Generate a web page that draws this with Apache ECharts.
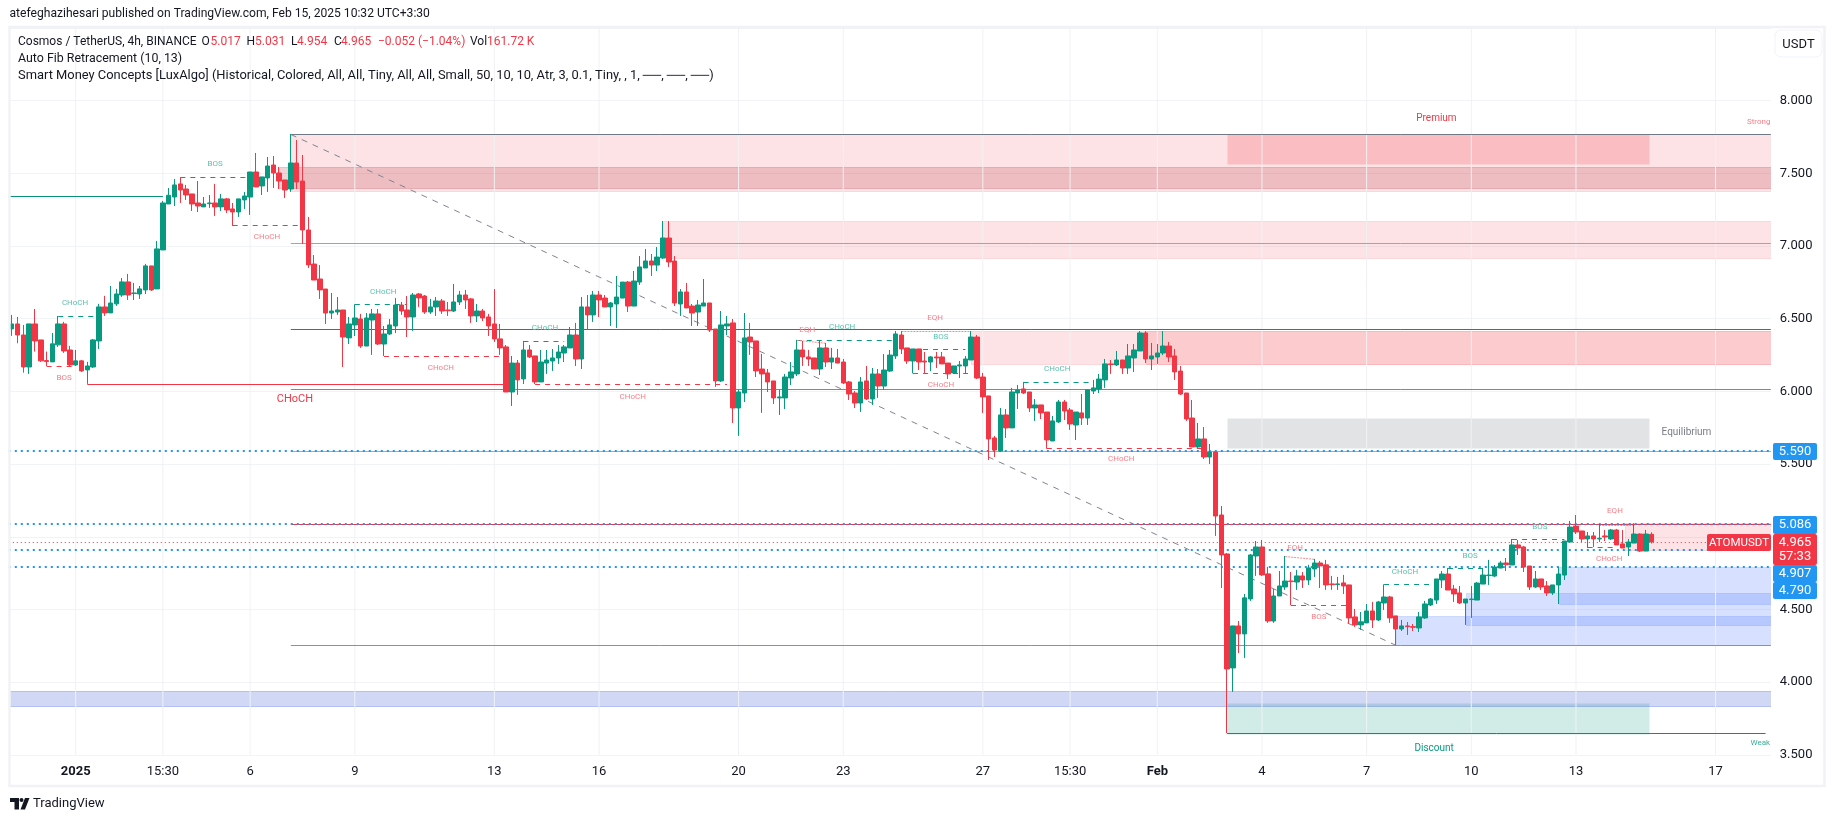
<!DOCTYPE html>
<html><head><meta charset="utf-8"><style>html,body{margin:0;padding:0;background:#fff}#c{width:1835px;height:821px}</style>
<script src="https://cdn.jsdelivr.net/npm/echarts@6/dist/echarts.min.js"></script></head><body><div id="c"></div>
<script>
const opens=[6.430,6.464,6.388,6.168,6.464,6.354,6.212,6.203,6.320,6.464,
6.285,6.182,6.210,6.148,6.168,6.347,6.581,6.540,6.602,6.663,
6.753,6.673,6.670,6.698,6.863,6.705,6.973,7.289,7.337,7.427,
7.392,7.358,7.296,7.269,7.291,7.296,7.269,7.324,7.255,7.234,
7.317,7.337,7.509,7.413,7.468,7.557,7.502,7.454,7.392,7.571,
7.447,7.110,6.876,6.773,6.704,6.539,6.546,6.560,6.368,6.457,
6.498,6.312,6.491,6.533,6.326,6.395,6.450,6.594,6.560,6.512,
6.670,6.656,6.546,6.581,6.622,6.560,6.553,6.615,6.663,6.636,
6.519,6.553,6.512,6.464,6.361,6.306,5.996,6.195,6.086,6.285,
6.244,6.065,6.195,6.209,6.230,6.264,6.299,6.388,6.223,6.581,
6.526,6.663,6.642,6.581,6.601,6.642,6.752,6.587,6.752,6.849,
6.897,6.869,6.918,7.055,6.897,6.601,6.684,6.587,6.546,6.587,
6.608,6.429,6.072,6.450,6.471,5.886,5.989,6.374,6.347,6.154,
6.127,6.072,5.955,5.955,6.092,6.120,6.285,6.237,6.230,6.154,
6.299,6.202,6.230,6.202,6.065,5.989,5.920,6.072,5.948,6.120,
6.037,6.140,6.244,6.388,6.299,6.209,6.292,6.209,6.202,6.237,
6.237,6.195,6.127,6.175,6.175,6.216,6.374,6.099,5.969,5.680,
5.590,5.838,5.749,5.989,6.017,5.996,5.886,5.907,5.858,5.659,
5.790,5.927,5.872,5.769,5.852,5.817,6.003,6.017,6.079,6.189,
6.182,6.216,6.161,6.230,6.278,6.402,6.223,6.237,6.264,6.312,
6.244,6.140,5.989,5.817,5.618,5.673,5.549,5.583,5.150,4.882,
4.098,4.387,4.332,4.573,4.868,4.930,4.745,4.421,4.593,4.655,
4.696,4.689,4.731,4.703,4.779,4.820,4.807,4.676,4.671,4.683,
4.669,4.449,4.394,4.408,4.490,4.428,4.545,4.586,4.456,4.366,
4.387,4.382,4.373,4.442,4.531,4.565,4.703,4.744,4.641,4.614,
4.545,4.568,4.565,4.675,4.733,4.730,4.785,4.820,4.806,4.944,
4.930,4.799,4.655,4.710,4.662,4.614,4.669,4.737,4.964,5.074,
5.040,4.985,5.006,4.985,5.006,4.985,5.047,4.951,4.930,4.957,
5.019,4.902,5.017];
const closes=[6.464,6.388,6.168,6.464,6.347,6.210,6.205,6.327,6.464,6.278,
6.182,6.210,6.141,6.175,6.354,6.581,6.540,6.608,6.670,6.753,
6.663,6.677,6.705,6.863,6.698,6.980,7.296,7.349,7.420,7.385,
7.351,7.289,7.275,7.289,7.296,7.269,7.324,7.248,7.234,7.324,
7.344,7.509,7.406,7.475,7.550,7.502,7.447,7.385,7.571,7.440,
7.110,6.870,6.766,6.698,6.539,6.553,6.560,6.374,6.464,6.505,
6.312,6.505,6.533,6.326,6.395,6.457,6.594,6.553,6.512,6.663,
6.643,6.546,6.581,6.622,6.553,6.555,6.615,6.663,6.629,6.519,
6.553,6.505,6.450,6.361,6.299,5.996,6.195,6.079,6.285,6.237,
6.065,6.202,6.216,6.230,6.271,6.306,6.388,6.223,6.581,6.526,
6.663,6.629,6.581,6.608,6.649,6.752,6.587,6.759,6.856,6.897,
6.869,6.924,7.055,6.890,6.608,6.684,6.574,6.539,6.594,6.608,
6.422,6.072,6.457,6.464,5.886,5.996,6.368,6.340,6.141,6.120,
6.065,5.955,5.962,6.099,6.134,6.285,6.237,6.223,6.154,6.299,
6.202,6.230,6.195,6.058,5.982,5.920,6.065,5.948,6.120,6.037,
6.147,6.250,6.395,6.292,6.209,6.292,6.202,6.202,6.237,6.230,
6.189,6.120,6.175,6.182,6.223,6.374,6.092,5.962,5.673,5.597,
5.838,5.749,5.996,6.010,5.989,5.886,5.907,5.852,5.666,5.797,
5.927,5.865,5.776,5.858,5.817,6.010,6.024,6.085,6.189,6.184,
6.216,6.161,6.244,6.285,6.402,6.223,6.244,6.264,6.312,6.237,
6.134,5.982,5.810,5.618,5.673,5.549,5.583,5.143,4.875,4.091,
4.387,4.332,4.580,4.875,4.930,4.738,4.421,4.593,4.662,4.696,
4.692,4.731,4.703,4.786,4.820,4.800,4.669,4.671,4.676,4.662,
4.442,4.394,4.415,4.490,4.428,4.552,4.586,4.442,4.366,4.387,
4.382,4.378,4.449,4.538,4.572,4.710,4.744,4.634,4.607,4.545,
4.572,4.572,4.682,4.737,4.737,4.792,4.820,4.808,4.944,4.923,
4.792,4.655,4.710,4.655,4.614,4.669,4.744,4.971,5.067,5.033,
4.985,5.006,4.985,4.990,4.999,5.047,4.944,4.923,4.964,5.019,
4.902,5.019,4.965];
const highs=[6.526,6.512,6.457,6.464,6.567,6.354,6.274,6.402,6.519,6.478,
6.313,6.285,6.217,6.203,6.361,6.602,6.657,6.725,6.705,6.780,
6.808,6.746,6.725,6.877,6.863,7.035,7.310,7.399,7.461,7.473,
7.420,7.358,7.447,7.337,7.351,7.427,7.358,7.330,7.296,7.324,
7.372,7.509,7.640,7.475,7.612,7.619,7.544,7.454,7.770,7.729,
7.626,7.200,6.938,6.869,6.704,6.677,6.649,6.560,6.512,6.599,
6.533,6.539,6.567,6.567,6.450,6.498,6.643,6.615,6.656,6.677,
6.677,6.663,6.636,6.649,6.636,6.615,6.739,6.691,6.698,6.643,
6.601,6.567,6.533,6.704,6.464,6.319,6.244,6.216,6.347,6.319,
6.244,6.285,6.285,6.292,6.319,6.319,6.443,6.471,6.649,6.663,
6.691,6.691,6.663,6.615,6.794,6.752,6.759,6.828,6.931,6.979,
6.945,6.993,7.172,7.172,6.931,6.704,6.746,6.601,6.629,6.773,
6.608,6.429,6.553,6.519,6.498,6.010,6.539,6.471,6.347,6.258,
6.154,6.072,6.010,6.120,6.202,6.354,6.347,6.285,6.230,6.347,
6.333,6.299,6.292,6.223,6.072,6.003,6.099,6.175,6.161,6.154,
6.257,6.285,6.415,6.415,6.299,6.292,6.292,6.271,6.244,6.271,
6.271,6.195,6.175,6.209,6.244,6.415,6.388,6.127,5.969,5.693,
5.886,5.879,6.024,6.044,6.065,5.996,5.948,5.907,5.858,5.831,
5.941,5.941,5.886,5.858,5.982,6.010,6.079,6.120,6.223,6.216,
6.278,6.216,6.326,6.326,6.415,6.415,6.333,6.326,6.415,6.340,
6.292,6.175,5.989,5.941,5.783,5.755,5.638,5.583,5.212,4.889,
4.387,4.421,4.607,4.882,4.971,4.978,4.793,4.641,4.765,4.868,
4.758,4.772,4.758,4.807,4.848,4.834,4.841,4.731,4.724,4.738,
4.669,4.504,4.483,4.538,4.552,4.559,4.673,4.593,4.456,4.428,
4.414,4.400,4.483,4.559,4.579,4.710,4.765,4.786,4.669,4.662,
4.572,4.662,4.689,4.785,4.841,4.806,4.834,4.854,4.985,4.978,
4.937,4.799,4.765,4.710,4.696,4.669,4.792,4.971,5.109,5.150,
5.040,5.033,5.033,5.088,5.047,5.054,5.054,5.047,4.985,5.093,
5.024,5.047,5.031];
const lows=[6.382,6.331,6.129,6.120,6.274,6.203,6.175,6.203,6.306,6.265,
6.175,6.175,6.134,6.052,6.161,6.292,6.519,6.540,6.588,6.650,
6.629,6.629,6.636,6.670,6.691,6.705,6.973,7.289,7.275,7.296,
7.317,7.241,7.234,7.269,7.262,7.207,7.241,7.227,7.138,7.200,
7.255,7.214,7.406,7.351,7.372,7.399,7.392,7.330,7.372,7.392,
7.014,6.849,6.766,6.636,6.464,6.498,6.526,6.168,6.326,6.381,
6.299,6.312,6.251,6.319,6.244,6.388,6.402,6.526,6.374,6.416,
6.581,6.533,6.533,6.519,6.533,6.519,6.546,6.594,6.567,6.471,
6.477,6.484,6.381,6.340,6.251,5.996,5.900,5.976,6.051,6.230,
6.051,6.065,6.120,6.141,6.189,6.202,6.299,6.175,6.154,6.422,
6.478,6.512,6.581,6.450,6.436,6.642,6.546,6.587,6.732,6.849,
6.794,6.828,6.911,6.856,6.587,6.519,6.574,6.450,6.450,6.587,
6.409,6.031,6.065,6.388,5.783,5.694,5.927,6.251,6.099,5.852,
5.996,5.914,5.838,5.879,6.044,6.106,6.175,6.175,6.154,6.113,
6.168,6.154,6.195,6.051,5.941,5.886,5.859,5.941,5.907,5.955,
6.010,6.134,6.223,6.257,6.189,6.124,6.147,6.127,6.140,6.161,
6.189,6.085,6.120,6.092,6.120,6.216,6.085,5.852,5.528,5.549,
5.583,5.680,5.749,5.879,5.982,5.858,5.797,5.810,5.606,5.659,
5.783,5.803,5.735,5.666,5.769,5.769,5.982,5.989,6.024,6.120,
6.175,6.120,6.120,6.134,6.278,6.195,6.147,6.189,6.250,6.202,
6.079,5.975,5.797,5.618,5.611,5.535,5.501,5.006,4.648,3.650,
3.933,4.201,4.167,4.559,4.731,4.731,4.408,4.408,4.593,4.635,
4.529,4.635,4.648,4.669,4.724,4.648,4.635,4.635,4.635,4.607,
4.401,4.380,4.360,4.408,4.373,4.421,4.497,4.408,4.256,4.352,
4.325,4.352,4.345,4.435,4.524,4.538,4.648,4.634,4.552,4.538,
4.394,4.442,4.565,4.675,4.669,4.724,4.785,4.765,4.806,4.875,
4.758,4.634,4.648,4.634,4.593,4.600,4.538,4.703,4.964,5.019,
4.964,4.923,4.930,4.964,4.971,4.978,4.944,4.923,4.868,4.957,
4.896,4.902,4.954];

const slotCount=303, lastSlot=302.5, firstSlot=-0.5;
const tickIndex=[11,26,41,59,83,101,125,143,167,182,197,215,233,251,269,293];
const tickText=['2025','15:30','6','9','13','16','20','23','27','15:30','Feb','4','7','10','13','17'];
const boldTicks=['2025','Feb'];

// zones: [startBar, endBar, topPrice, bottomPrice]
const paleRedZones=[[48,lastSlot,7.767,7.375],[112,lastSlot,7.172,6.915],[165,lastSlot,6.415,6.190],[195,lastSlot,6.415,6.190],[277.5,lastSlot,5.095,4.909]];
const orderBlockZones=[[46,lastSlot,7.543,7.401]];
const premiumZones=[[209,281.6,7.767,7.566]];
const equilibriumZones=[[209,281.6,5.817,5.609]];
const discountZones=[[209,281.6,3.857,3.647]];
const blueZones=[[238,lastSlot,4.453,4.254],[250,lastSlot,4.614,4.396],[266,lastSlot,4.793,4.540]];
const bandZones=[[firstSlot,lastSlot,3.939,3.834]];

// segments: [x1, price1, x2, price2]
const fibGrey=[[48,7.767,lastSlot,7.767]];
const fibBlue=[[48,7.019,lastSlot,7.019]];
const fibTeal=[[48,6.431,lastSlot,6.431],[firstSlot,7.347,26,7.347],[209,3.648,301.6,3.648]];
const fibGreen=[[48,6.015,lastSlot,6.015]];
const fibLight=[[48,5.590,lastSlot,5.590]];
const fibRed=[[48,5.086,lastSlot,5.086],[13,6.050,85,6.050]];
const fibPurple=[[48,4.254,lastSlot,4.254]];
const diagonal=[[48,7.767,238,4.254]];
const dottedLevels=[5.590,5.086,4.907,4.790];
const lastPrice=[4.965];
const greenDash=[[8,6.517,15,6.517],[29,7.473,41,7.473],[59,6.599,68,6.599],[88,6.344,95,6.344],[135,6.351,152,6.351],[155,6.289,164,6.289],[174,6.062,186,6.062],[236,4.673,244,4.673],[247,4.783,253,4.783],[258,4.983,267,4.983]];
const redDash=[[6,6.175,10.5,6.175],[38,7.142,50,7.142],[64,6.244,84,6.244],[90,6.050,123,6.050],[155,6.124,165,6.124],[178,5.609,205,5.609],[220,4.529,230,4.529],[271,4.928,275.5,4.928]];
const pinkDot=[[135,6.351,140,6.331],[153,6.413,165,6.413],[219,4.864,224,4.845],[273,5.081,279,5.081]];

// text notes: [label, bar, price]
const greenNotes=[['CHoCH',10.9,6.608],['BOS',35,7.564],['CHoCH',63.9,6.684],['CHoCH',91.7,6.436],['CHoCH',142.8,6.443],['BOS',159.8,6.374],['CHoCH',179.8,6.154],['CHoCH',239.6,4.758],['BOS',250.8,4.868],['BOS',262.8,5.068]];
const redNotes=[['BOS',9,6.092],['CHoCH',43.9,7.062],['CHoCH',73.8,6.161],['CHoCH',106.8,5.964],['EQH',136.8,6.422],['EQH',158.8,6.505],['CHoCH',159.8,6.044],['CHoCH',190.8,5.535],['EQH',220.7,4.923],['BOS',224.8,4.448],['EQH',275.7,5.178],['CHoCH',274.7,4.848]];
const bigNotes=[['CHoCH',48.7,5.948]];
const zoneRedNotes=[['Premium',245,7.880]];
const zoneGreyNotes=[['Equilibrium',288,5.714]];
const zoneGreenNotes=[['Discount',244.6,3.547]];
const edgeRedNotes=[['Strong High',298.4,7.853]];
const edgeGreenNotes=[['Weak Low',299,3.581]];

const FONT='Roboto, "Noto Sans", sans-serif';
const UP='#089981', DOWN='#F23645', INK='#131722';
const categories=Array.from({length:slotCount},(_,i)=>{const k=tickIndex.indexOf(i);return k>=0?tickText[k]:'';});
const candleData=opens.map((o,i)=>[o,closes[i],lows[i],highs[i]]);

function zoneSeries(rows,fill,stroke,z){
  return {type:'custom',xAxisIndex:1,yAxisIndex:0,z:z||1,silent:true,clip:true,animation:false,data:rows,
    encode:{x:[0,1],y:[2,3]},
    renderItem:(p,api)=>{
      const a=api.coord([api.value(0),api.value(2)]),b=api.coord([api.value(1),api.value(3)]);
      const x=Math.round(a[0])+.5,y=Math.round(a[1])+.5,w=Math.round(b[0])-Math.round(a[0]),h=Math.round(b[1])-Math.round(a[1]);
      return {type:'rect',shape:{x,y,width:w,height:h},style:{fill,stroke,lineWidth:1}};
    }};
}
function segSeries(rows,stroke,lineWidth,lineDash,z){
  return {type:'custom',xAxisIndex:1,yAxisIndex:0,z:z||2,silent:true,clip:true,animation:false,data:rows,
    encode:{x:[0,2],y:[1,3]},
    renderItem:(p,api)=>{
      const a=api.coord([api.value(0),api.value(1)]),b=api.coord([api.value(2),api.value(3)]);
      let y1=a[1],y2=b[1];
      if(y1===y2){y1=y2=Math.round(y1)+(lineWidth%2?.5:0);}
      return {type:'line',shape:{x1:a[0],y1,x2:b[0],y2},style:{stroke,lineWidth,lineDash:lineDash||null,fill:null}};
    }};
}
function noteSeries(rows,fill,size,align){
  return {type:'custom',xAxisIndex:1,yAxisIndex:0,z:5,silent:true,clip:true,animation:false,
    data:rows.map(r=>[r[1],r[2]]),encode:{x:0,y:1},
    renderItem:(p,api)=>{
      const a=api.coord([api.value(0),api.value(1)]);
      return {type:'text',x:a[0],y:a[1],style:{text:rows[p.dataIndex][0],fill,font:size+'px '+FONT,textAlign:align||'center',textVerticalAlign:'middle'}};
    }};
}
const full=(levels)=>levels.map(v=>[firstSlot,v,lastSlot,v]);
const gridRows=tickIndex.map(i=>[i,3.5,i,8.5]);

const series=[
  segSeries(gridRows,'#f0f1f4',1,null,0),
  zoneSeries(paleRedZones,'rgba(242,54,69,0.14)','rgba(242,54,69,0.14)'),
  zoneSeries(orderBlockZones,'rgba(178,40,51,0.20)','rgba(178,40,51,0.22)'),
  zoneSeries(premiumZones,'rgba(242,54,69,0.22)','rgba(242,54,69,0)'),
  zoneSeries(equilibriumZones,'rgba(120,123,134,0.21)','rgba(120,123,134,0)'),
  zoneSeries(discountZones,'rgba(8,153,129,0.19)','rgba(8,153,129,0)'),
  zoneSeries(blueZones,'rgba(41,98,255,0.19)','rgba(41,98,255,0.16)'),
  zoneSeries(bandZones,'rgba(60,90,215,0.24)','rgba(60,90,215,0.30)'),
  segSeries(fibGrey,'#6f7a86',1),
  segSeries(fibBlue,'#64b5f6',1),
  segSeries(fibTeal,'#0a8f79',1),
  segSeries(fibGreen,'#4caf50',1),
  segSeries(fibLight,'#81c784',1),
  segSeries(fibRed,DOWN,1),
  segSeries(fibPurple,'#8a8fae',1),
  segSeries(diagonal,'#808490',1,[6,6]),
  segSeries(full(dottedLevels),'#2196f3',2,[2,4]),
  segSeries(full(lastPrice),DOWN,1,[1,3]),
  segSeries(greenDash,UP,1,[5,5]),
  segSeries(redDash,DOWN,1,[5,5]),
  segSeries(pinkDot,'#f78a92',1,[2,1]),
  {type:'candlestick',xAxisIndex:0,yAxisIndex:0,z:3,barWidth:5,silent:true,animation:false,data:candleData,
   itemStyle:{color:UP,color0:DOWN,borderColor:UP,borderColor0:DOWN,borderWidth:1}},
  noteSeries(greenNotes,'#5cbfae',8),
  noteSeries(redNotes,'#f77f88',8),
  noteSeries(bigNotes,DOWN,11),
  noteSeries(zoneRedNotes,DOWN,10),
  noteSeries(zoneGreyNotes,'#787b86',10),
  noteSeries(zoneGreenNotes,UP,10),
  noteSeries(edgeRedNotes,'#f77f88',8,'left'),
  noteSeries(edgeGreenNotes,'#3bae9a',8,'left')
];

// page furniture
const headerText='atefeghazihesari published on TradingView.com, Feb 15, 2025 10:32 UTC+3:30';
const legendLine2='Auto Fib Retracement (10, 13)';
const legendLine3='Smart Money Concepts [LuxAlgo] (Historical, Colored, All, All, Tiny, All, All, Small, 50, 10, 10, Atr, 3, 0.1, Tiny, , 1, ──, ──, ──)';
const legendParts=[['Cosmos / TetherUS, 4h, BINANCE',18,INK],['O',201.5,INK],['5.017',210.5,DOWN],['H',246.5,INK],['5.031',255,DOWN],['L',291,INK],['4.954',297,DOWN],['C',334,INK],['4.965',341,DOWN],['−0.052 (−1.04%)',378,DOWN],['Vol',470,INK],['161.72 K',487,DOWN]];
const blueTags=[['5.590',443,17],['5.086',516,18],['4.907',565,17],['4.790',582,17]];
const txt=(text,x,y,fill,size,extra)=>({type:'text',x,y,z:100,style:Object.assign({text,fill,font:(size||13)+'px '+FONT,textAlign:'left',textVerticalAlign:'middle'},extra||{})});
const graphic=[
  {type:'rect',z:60,shape:{x:9.5,y:27,width:1815,height:759},style:{fill:null,stroke:'#f1f2f5',lineWidth:2.5}},
  {type:'rect',z:99,shape:{x:1775,y:30,width:47,height:27,r:6},style:{fill:'#fff',stroke:'#f0f3fa',lineWidth:1}},
  txt('USDT',1798.5,44.5,INK,13,{textAlign:'center'}),
  txt(headerText,9.5,14,INK,12.1),
  txt(legendLine2,18,59,INK,12.4),
  txt(legendLine3,18,76,INK,12.9),
  ...legendParts.map(p=>txt(p[0],p[1],42,p[2],12)),
  ...blueTags.map(t=>({type:'rect',z:98,shape:{x:1773,y:t[1],width:44,height:t[2],r:2},style:{fill:'#2196f3'}})),
  ...blueTags.map(t=>txt(t[0],1795,t[1]+t[2]/2,'#fff',13,{textAlign:'center'})),
  {type:'rect',z:98,shape:{x:1773,y:534,width:44,height:31,r:2},style:{fill:DOWN}},
  {type:'rect',z:98,shape:{x:1707,y:534,width:64,height:17,r:2},style:{fill:DOWN}},
  txt('ATOMUSDT',1739,542.7,'#fff',11.5,{textAlign:'center'}),
  txt('4.965',1795,542.7,'#fff',13,{textAlign:'center'}),
  txt('57:33',1795,556.7,'#fff',13,{textAlign:'center'}),
  {type:'polygon',z:100,shape:{points:[[10,798],[19,798],[19,809.5],[14.5,809.5],[14.5,802],[10,802]]},style:{fill:'#131722'}},
  {type:'circle',z:100,shape:{cx:21.5,cy:800,r:2},style:{fill:'#131722'}},
  {type:'polygon',z:100,shape:{points:[[25,798],[29.5,798],[25,809.5],[20.5,809.5]]},style:{fill:'#131722'}},
  txt('TradingView',33,803.5,'#131722',13)
];

const chart=echarts.init(document.getElementById('c'),null,{renderer:'canvas'});
chart.setOption({
  animation:false,backgroundColor:'#fff',
  grid:{left:8.8,top:27.9,width:1762,height:727,containLabel:false},
  xAxis:[
   {type:'category',data:categories,boundaryGap:true,position:'bottom',
    axisLine:{show:false},axisTick:{show:false},splitLine:{show:false},
    axisLabel:{interval:(i)=>tickIndex.includes(i),margin:10.5,hideOverlap:false,color:INK,fontSize:13,fontFamily:FONT,
      formatter:(v)=>boldTicks.includes(v)?'{b|'+v+'}':v,rich:{b:{fontWeight:'bold',fontSize:13,fontFamily:FONT,color:INK}}}},
   {type:'value',min:firstSlot,max:lastSlot,show:false,splitLine:{show:false}}
  ],
  yAxis:{type:'value',position:'right',min:3.5,max:8.5,interval:0.5,scale:true,
    axisLine:{show:false},axisTick:{show:false},
    splitLine:{show:true,lineStyle:{color:'#f2f3f6',width:1}},
    axisLabel:{margin:9,color:INK,fontSize:13,fontFamily:FONT,padding:[2,0,0,0],showMaxLabel:false,formatter:(v)=>v.toFixed(3)}},
  series,graphic
});
</script></body></html>
